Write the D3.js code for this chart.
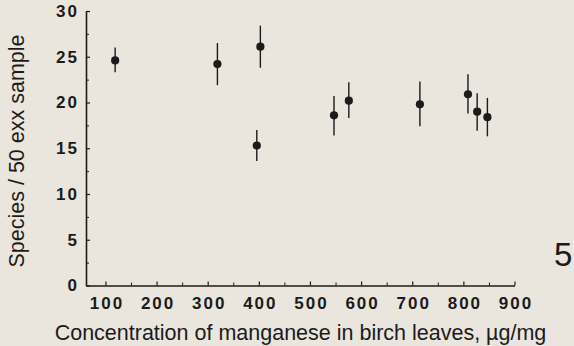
<!DOCTYPE html>
<html>
<head>
<meta charset="utf-8">
<script src="https://cdn.jsdelivr.net/npm/d3@7"></script>
<style>
  html, body { margin: 0; padding: 0; background: #eae5dd; }
  svg { display: block; }
</style>
</head>
<body>
<svg id="chart"></svg>
<script>
// Mn concentration (µg/mg) against species per 50-individual sample
const manganese = [119, 319, 403, 396, 547, 576, 715, 809, 827, 847]
const species   = [24.6, 24.2, 26.1, 15.3, 18.6, 20.2, 19.8, 20.9, 19.0, 18.4]
const errLow    = [23.3, 21.9, 23.8, 13.6, 16.4, 18.3, 17.4, 18.8, 16.9, 16.3]
const errHigh   = [26.0, 26.5, 28.4, 17.0, 20.7, 22.2, 22.3, 23.1, 21.0, 20.5]

const xTicks = [100, 200, 300, 400, 500, 600, 700, 800, 900]
const xMinor = [150, 250, 350, 450, 550, 650, 750, 850]
const yTicks = [0, 5, 10, 15, 20, 25, 30]
const yMinor = [2.5, 7.5, 12.5, 17.5, 22.5, 27.5]

const width = 574, height = 346
const ink = '#1b1b1b'

const svg = d3.select('#chart')
    .attr('width', width)
    .attr('height', height)
    .attr('font-family', 'Liberation Sans, Arial, sans-serif')

const x = d3.scaleLinear().domain([62, 900]).range([86, 514.5])
const y = d3.scaleLinear().domain([0, 30]).range([285.5, 11])

// minor ticks first, so the major axis draws on top
svg.append('g')
    .attr('transform', `translate(0,${y(0)})`)
    .call(d3.axisBottom(x).tickValues(xMinor).tickSize(-3).tickFormat(''))
    .call(g => g.select('.domain').remove())
    .call(g => g.selectAll('line').attr('stroke', ink).attr('stroke-width', 1))

svg.append('g')
    .attr('transform', `translate(${x.range()[0]},0)`)
    .call(d3.axisLeft(y).tickValues(yMinor).tickSize(-3).tickFormat(''))
    .call(g => g.select('.domain').remove())
    .call(g => g.selectAll('line').attr('stroke', ink).attr('stroke-width', 1))

const xAxis = svg.append('g')
    .attr('transform', `translate(0,${y(0)})`)
    .call(d3.axisBottom(x).tickValues(xTicks).tickSize(-4).tickSizeOuter(0).tickPadding(11))

xAxis.select('.domain').attr('stroke', ink).attr('stroke-width', 1.6)
xAxis.selectAll('line').attr('stroke', ink).attr('stroke-width', 1.2)
xAxis.selectAll('text')
    .attr('fill', ink)
    .attr('font-size', 17)
    .attr('font-weight', 'bold')
    .attr('letter-spacing', 2)
    .attr('dx', 1)

const yAxis = svg.append('g')
    .attr('transform', `translate(${x.range()[0]},0)`)
    .call(d3.axisLeft(y).tickValues(yTicks).tickSize(-4).tickSizeOuter(0).tickPadding(7))

yAxis.select('.domain').attr('stroke', ink).attr('stroke-width', 1.6)
yAxis.selectAll('line').attr('stroke', ink).attr('stroke-width', 1.2)
yAxis.selectAll('text')
    .attr('fill', ink)
    .attr('font-size', 17)
    .attr('font-weight', 'bold')
    .attr('letter-spacing', 2)

// error bars
svg.append('g')
    .selectAll('line')
    .data(manganese)
    .join('line')
    .attr('x1', d => x(d))
    .attr('x2', d => x(d))
    .attr('y1', (d, i) => y(errLow[i]))
    .attr('y2', (d, i) => y(errHigh[i]))
    .attr('stroke', ink)
    .attr('stroke-width', 1.4)

// points
svg.append('g')
    .selectAll('circle')
    .data(manganese)
    .join('circle')
    .attr('cx', d => x(d))
    .attr('cy', (d, i) => y(species[i]))
    .attr('r', 4.1)
    .attr('fill', ink)

// axis titles
svg.append('text')
    .attr('x', 300.5)
    .attr('y', 339.5)
    .attr('text-anchor', 'middle')
    .attr('font-size', 21.5)
    .attr('fill', ink)
    .text('Concentration of manganese in birch leaves, µg/mg')

svg.append('text')
    .attr('transform', 'translate(23.5,151) rotate(-90)')
    .attr('text-anchor', 'middle')
    .attr('font-size', 21.5)
    .attr('fill', ink)
    .text('Species / 50 exx sample')

// figure number
svg.append('text')
    .attr('x', 554)
    .attr('y', 266)
    .attr('font-size', 33)
    .attr('fill', ink)
    .text('5')
</script>
</body>
</html>
